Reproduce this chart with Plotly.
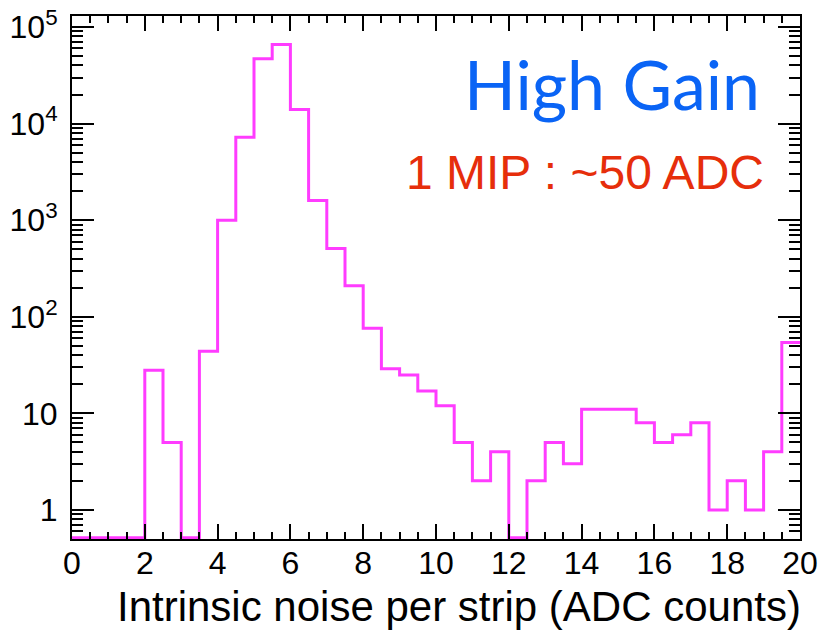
import plotly.graph_objects as go
import math

# ---------------- data ----------------
bin_edges = [i * 0.5 for i in range(41)]  # 0 .. 20, width 0.5
counts = [
    0, 0, 0, 0,
    28, 5, 0, 44,
    1000, 7200, 47000, 66000,
    14000, 1600, 510, 210,
    76, 29, 25, 17,
    12, 5, 2, 4,
    0, 2, 5, 3,
    11, 11, 11, 8,
    5, 6, 8, 1,
    2, 1, 4, 54,
]
x_ticks = [0, 2, 4, 6, 8, 10, 12, 14, 16, 18, 20]
y_ticks = [1, 10, 100, 1000, 10000, 100000]
y_ticktext = ["1", "10", "10<sup>2</sup>", "10<sup>3</sup>", "10<sup>4</sup>", "10<sup>5</sup>"]
x_title = "Intrinsic noise per strip (ADC counts)"
label_main = "High Gain"
label_sub = "1 MIP : ~50 ADC"

y_min, y_max = 0.5, 1.3e5
floor = 0.515  # empty bins drawn on the bottom edge

# step outline (ROOT-like histogram)
xs = list(bin_edges)
ys = [max(c, floor) for c in counts] + [max(counts[-1], floor)]

minor_y = []
for k in range(-1, 6):
    for d in range(2, 10):
        v = d * 10 ** k
        if y_min <= v <= y_max:
            minor_y.append(v)

fig = go.Figure()
fig.add_trace(go.Scatter(
    x=xs, y=ys, mode="lines", line=dict(color="#ff3cff", width=3, shape="hv"),
    hoverinfo="skip", showlegend=False,
))

axis_font = dict(family="Liberation Sans, Arial, sans-serif", size=32, color="black")

fig.update_layout(
    width=820, height=630, autosize=False,
    margin=dict(l=72, r=20, t=16, b=91),
    paper_bgcolor="white", plot_bgcolor="white",
    xaxis=dict(
        range=[0, 20], tickmode="array", tickvals=x_ticks, automargin=False,
        ticklabeloverflow="allow", ticklabelstandoff=-5,
        ticks="inside", ticklen=15, tickwidth=1.5, tickcolor="black",
        showline=True, linewidth=2, linecolor="black", mirror="allticks",
        showgrid=False, zeroline=False, tickfont=axis_font,
        minor=dict(ticks="inside", dtick=0.5, tick0=0, ticklen=7, tickwidth=1.5,
                   tickcolor="black", showgrid=False),
    ),
    yaxis=dict(
        type="log", range=[math.log10(y_min), math.log10(y_max)], automargin=False,
        tickmode="array", tickvals=y_ticks, ticktext=y_ticktext, ticklabelstandoff=6,
        ticklabeloverflow="allow",
        ticks="inside", ticklen=22, tickwidth=1.5, tickcolor="black",
        showline=True, linewidth=2, linecolor="black", mirror="allticks",
        showgrid=False, zeroline=False, tickfont=axis_font,
        minor=dict(ticks="inside", tickmode="array", tickvals=minor_y, ticklen=11,
                   tickwidth=1.5, tickcolor="black", showgrid=False),
    ),
    annotations=[
        dict(text=label_main, xref="paper", yref="paper", x=0.948, y=0.87,
             xanchor="right", yanchor="middle", showarrow=False,
             font=dict(family="Lato, sans-serif", size=68, color="#0a64f5")),
        dict(text=label_sub, xref="paper", yref="paper", x=0.953, y=0.70,
             xanchor="right", yanchor="middle", showarrow=False,
             font=dict(family="Liberation Sans, Arial, sans-serif", size=48, color="#e62e0b")),
        dict(text=x_title, xref="paper", yref="paper", x=1.004, y=-0.13,
             xanchor="right", yanchor="middle", showarrow=False,
             font=dict(family="Liberation Sans, Arial, sans-serif", size=42, color="black")),
    ],
)

# remove the browser's default 8px body margin so the 820x630 figure fills the window
fig.write_html("out.html", config={"displayModeBar": False},
               post_script="document.body.style.margin='0';")
